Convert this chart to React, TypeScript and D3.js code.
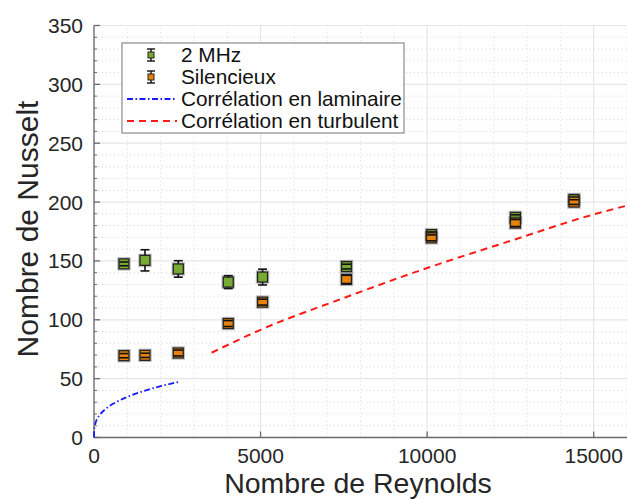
import React from "react";
import * as d3 from "d3";

const reynolds = [900, 1530, 2530, 4030, 5060, 7580, 10130, 12650, 14410];
const nu2MHz = [147.5, 150.5, 143.2, 132, 136.3, 145.2, 172.3, 187, 202.2];
const err2MHz = [1.6, 9, 7, 5.5, 6.7, 2, 2.2, 2.2, 2];
const nuSilencieux = [69.5, 69.8, 71.8, 96.8, 115, 134.3, 169.6, 182.2, 200];
const errSilencieux = [1.8, 1.8, 2.5, 2.5, 2.5, 3.5, 2.5, 3, 2];

const laminarRe = [0, 5, 20, 50, 100, 200, 400, 700, 1000, 1500, 2000, 2550];
const laminarNu = [0, 6, 9.3, 12.8, 16, 20.2, 25.4, 30.6, 34.5, 39.5, 43.6, 47.2];

const turbulentRe = [3530, 5000, 7500, 10000, 12500, 15000, 16000];
const turbulentNu = [72, 91.5, 118.5, 144, 167, 189.5, 197];

const xTicks = [0, 5000, 10000, 15000];
const yTicks = [0, 50, 100, 150, 200, 250, 300, 350];

const legendLabels = ["2 MHz", "Silencieux", "Corrélation en laminaire", "Corrélation en turbulent"];

const GREEN = "#77aa30";
const ORANGE = "#e8820a";
const FONT = "'Liberation Sans', Arial, Helvetica, sans-serif";

export default function App() {
  const W = 627, H = 499;
  const x = d3.scaleLinear().domain([0, 16000]).range([94, 627]);
  const y = d3.scaleLinear().domain([0, 350]).range([437.5, 25.5]);

  const minorX = d3.range(0, 16001, 1000).filter((v) => v % 5000 !== 0);
  const minorY = d3.range(0, 351, 10).filter((v) => v % 50 !== 0);

  const lamLine = d3
    .line<number>()
    .x((_, i) => x(laminarRe[i]))
    .y((d) => y(d))
    .curve(d3.curveMonotoneX)(laminarNu);
  const turbLine = d3
    .line<number>()
    .x((_, i) => x(turbulentRe[i]))
    .y((d) => y(d))
    .curve(d3.curveMonotoneX)(turbulentNu);

  const series = [
    { vals: nu2MHz, errs: err2MHz, color: GREEN },
    { vals: nuSilencieux, errs: errSilencieux, color: ORANGE },
  ];
  const ms = 10;
  const cap = 4.5;

  const legendX = 122, legendY = 43, legendW = 282, legendH = 90;
  const rowY = [55, 77, 99, 121];

  return (
    <svg
      width={W}
      height={H}
      style={{ position: "absolute", left: 0, top: 0, display: "block", background: "#fff" }}
      fontFamily={FONT}
    >
      {/* minor grid */}
      {minorX.map((v) => (
        <line key={"mx" + v} x1={x(v)} x2={x(v)} y1={y(0)} y2={y(350)} stroke="#d8d8d8" strokeWidth={1} strokeDasharray="1,3" />
      ))}
      {minorY.map((v) => (
        <line key={"my" + v} x1={x(0)} x2={W} y1={y(v)} y2={y(v)} stroke="#d8d8d8" strokeWidth={1} strokeDasharray="1,3" />
      ))}
      {/* major grid */}
      {xTicks.map((v) => (
        <line key={"gx" + v} x1={x(v)} x2={x(v)} y1={y(0)} y2={y(350)} stroke="#e6e6e6" strokeWidth={1.2} />
      ))}
      {yTicks.map((v) => (
        <line key={"gy" + v} x1={x(0)} x2={W} y1={y(v)} y2={y(v)} stroke="#e6e6e6" strokeWidth={1.2} />
      ))}

      {/* axes */}
      <line x1={x(0)} x2={x(0)} y1={y(0)} y2={y(350)} stroke="#6a6a6a" strokeWidth={1.3} />
      <line x1={x(0)} x2={W} y1={y(0)} y2={y(0)} stroke="#6a6a6a" strokeWidth={1.3} />
      {yTicks.map((v) => (
        <line key={"ty" + v} x1={x(0)} x2={x(0) + 6} y1={y(v)} y2={y(v)} stroke="#6a6a6a" strokeWidth={1.3} />
      ))}
      {minorY.map((v) => (
        <line key={"tmy" + v} x1={x(0)} x2={x(0) + 3} y1={y(v)} y2={y(v)} stroke="#6a6a6a" strokeWidth={1} />
      ))}
      {xTicks.map((v) => (
        <line key={"tx" + v} x1={x(v)} x2={x(v)} y1={y(0)} y2={y(0) - 6} stroke="#6a6a6a" strokeWidth={1.3} />
      ))}

      {/* tick labels */}
      {yTicks.map((v) => (
        <text key={"ly" + v} x={83} y={y(v) + 7.5} textAnchor="end" fontSize={21} fill="#262626">
          {v}
        </text>
      ))}
      {xTicks.map((v) => (
        <text key={"lx" + v} x={x(v)} y={463} textAnchor="middle" fontSize={21} fill="#262626">
          {v}
        </text>
      ))}

      {/* axis titles */}
      <text x={358} y={492.5} textAnchor="middle" fontSize={28.5} fill="#262626">
        Nombre de Reynolds
      </text>
      <text transform={`translate(38,${229}) rotate(-90)`} textAnchor="middle" fontSize={30} fill="#262626">
        Nombre de Nusselt
      </text>

      {/* correlations */}
      <path d={lamLine || ""} fill="none" stroke="#1a1aff" strokeWidth={1.8} strokeDasharray="6,2.5,1.5,2.5" />
      <path d={turbLine || ""} fill="none" stroke="#ff1a1a" strokeWidth={2} strokeDasharray="7,5" />

      {/* data series */}
      {series.map((s, si) => (
        <g key={"s" + si}>
          {s.vals.map((v, i) => (
            <line key={"e" + i} x1={x(reynolds[i])} x2={x(reynolds[i])} y1={y(v - s.errs[i])} y2={y(v + s.errs[i])} stroke="#111" strokeWidth={1.6} />
          ))}
          {s.vals.map((v, i) => (
            <g key={"m" + i}>
              <rect x={x(reynolds[i]) - ms / 2 - 1} y={y(v) - ms / 2 - 1} width={ms + 2} height={ms + 2} fill="none" stroke="#000" strokeOpacity={0.25} strokeWidth={1.5} />
              <rect x={x(reynolds[i]) - ms / 2} y={y(v) - ms / 2} width={ms} height={ms} fill={s.color} stroke="#222" strokeWidth={1.3} />
            </g>
          ))}
          {s.vals.map((v, i) => (
            <g key={"c" + i}>
              <line x1={x(reynolds[i]) - cap} x2={x(reynolds[i]) + cap} y1={y(v - s.errs[i])} y2={y(v - s.errs[i])} stroke="#111" strokeWidth={1.6} />
              <line x1={x(reynolds[i]) - cap} x2={x(reynolds[i]) + cap} y1={y(v + s.errs[i])} y2={y(v + s.errs[i])} stroke="#111" strokeWidth={1.6} />
            </g>
          ))}
        </g>
      ))}

      {/* legend */}
      <rect x={legendX} y={legendY} width={legendW} height={legendH} fill="#fff" stroke="#8a8a8a" strokeWidth={1.2} />
      {[GREEN, ORANGE].map((c, i) => (
        <g key={"lg" + i}>
          <line x1={151} x2={151} y1={rowY[i] - 6} y2={rowY[i] + 6} stroke="#111" strokeWidth={1.4} />
          <line x1={147} x2={155} y1={rowY[i] - 6} y2={rowY[i] - 6} stroke="#111" strokeWidth={1.4} />
          <line x1={147} x2={155} y1={rowY[i] + 6} y2={rowY[i] + 6} stroke="#111" strokeWidth={1.4} />
          <rect x={148} y={rowY[i] - 3} width={6} height={6} fill={c} stroke="#222" strokeWidth={1} />
        </g>
      ))}
      <line x1={127} x2={177} y1={rowY[2]} y2={rowY[2]} stroke="#1a1aff" strokeWidth={1.8} strokeDasharray="6,2.5,1.5,2.5" />
      <line x1={127} x2={177} y1={rowY[3]} y2={rowY[3]} stroke="#ff1a1a" strokeWidth={2} strokeDasharray="7,5" />
      {legendLabels.map((t, i) => (
        <text key={"lt" + i} x={181} y={rowY[i] + 7} fontSize={20.8} fill="#111">
          {t}
        </text>
      ))}
    </svg>
  );
}
